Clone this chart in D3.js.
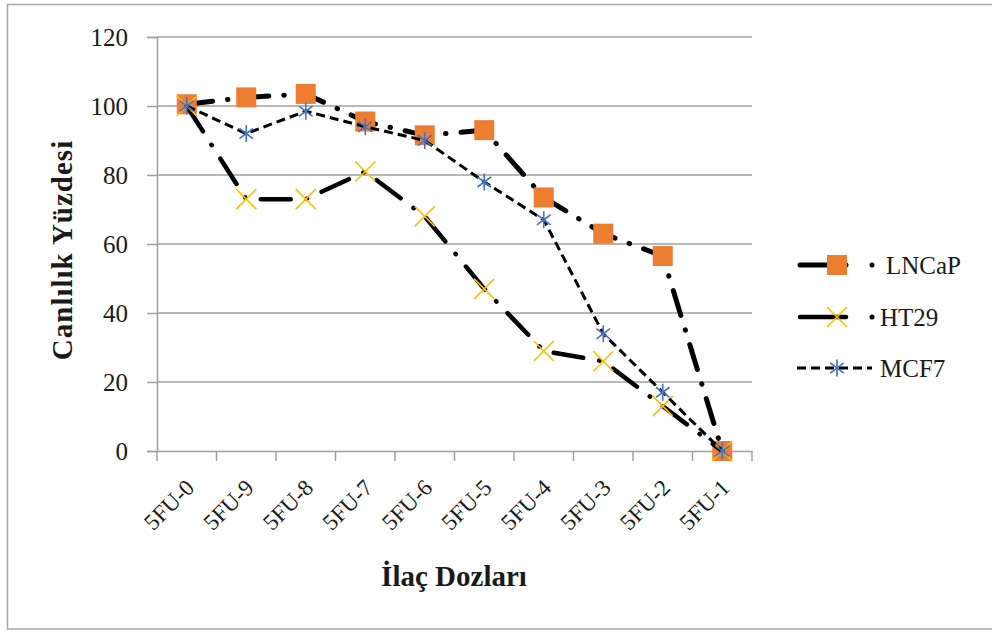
<!DOCTYPE html>
<meta charset="utf-8">
<style>
  body { margin: 0; background: #fff; }
  text { font-family: "Liberation Serif", "Times New Roman", serif; fill: #1a1a1a; }
</style>
<body>
<div id="canvas"></div>
<script src="https://d3js.org/d3.v7.min.js"></script>
<script>

// categories (drug doses) and viability values
var doses = ["5FU-0", "5FU-9", "5FU-8", "5FU-7", "5FU-6", "5FU-5", "5FU-4", "5FU-3", "5FU-2", "5FU-1"];
var lncap = [100.5, 102.5, 103.5, 95.5, 91.5, 93, 73.5, 63, 56.5, 0];
var ht29  = [100, 73, 73, 81, 68, 47, 29, 26, 13, 0];
var mcf7  = [100, 92, 98.5, 94, 90, 78, 67, 34, 17, 0];
var yTicks = [0, 20, 40, 60, 80, 100, 120];

var series = [
  { name: "LNCaP", values: lncap, width: 5,   dash: "26,15,0.5,15", cap: "round", marker: "square" },
  { name: "HT29",  values: ht29,  width: 4.5, dash: "30,16,0.5,16", cap: "round", marker: "x" },
  { name: "MCF7",  values: mcf7,  width: 3,   dash: "9,5",          cap: "butt",  marker: "star" }
];

var W = 992, H = 632;
var svg = d3.select("#canvas").append("svg")
    .attr("width", W)
    .attr("height", H);

// outer chart border
svg.append("rect")
    .attr("x", 7.5).attr("y", 4.5)
    .attr("width", 995).attr("height", 624.5)
    .attr("fill", "none")
    .attr("stroke", "#a6a6a6")
    .attr("stroke-width", 1.5);

var x = d3.scaleBand().domain(doses).range([157, 752]);
var y = d3.scaleLinear().domain([0, 120]).range([451, 37]);
var grey = "#a0a0a0";

// horizontal gridlines
svg.append("g").selectAll("line")
  .data(yTicks.filter(function(d){ return d > 0; }))
  .enter().append("line")
    .attr("x1", 157).attr("x2", 752)
    .attr("y1", function(d){ return y(d); })
    .attr("y2", function(d){ return y(d); })
    .attr("stroke", grey).attr("stroke-width", 1.5);

// y axis
var yAxis = svg.append("g")
    .attr("transform", "translate(157,0)")
    .call(d3.axisLeft(y).tickValues(yTicks).tickSize(10).tickPadding(19))
    .attr("font-family", "Liberation Serif");
yAxis.select(".domain").attr("stroke", grey).attr("stroke-width", 1.5);
yAxis.selectAll(".tick line").attr("stroke", grey).attr("stroke-width", 1.5);
yAxis.selectAll(".tick text")
    .attr("font-size", 25).attr("fill", "#1a1a1a");

// x axis: ticks at band edges
var xAxis = svg.append("g")
    .attr("transform", "translate(0,451)")
    .call(d3.axisBottom(x).tickSize(0).tickPadding(0))
    .attr("font-family", "Liberation Serif");
xAxis.select(".domain").attr("stroke", grey).attr("stroke-width", 1.5);
xAxis.selectAll(".tick text")
    .attr("font-size", 23).attr("fill", "#1a1a1a")
    .attr("text-anchor", "end")
    .attr("dy", 0)
    .attr("transform", "translate(9,38) rotate(-45)");
xAxis.append("g").selectAll("line")
  .data(doses.concat(["end"]))
  .enter().append("line")
    .attr("x1", function(d, i){ return 157 + i * x.bandwidth(); })
    .attr("x2", function(d, i){ return 157 + i * x.bandwidth(); })
    .attr("y1", 0).attr("y2", 10)
    .attr("stroke", grey).attr("stroke-width", 1.5);

// axis titles
svg.append("text")
    .attr("x", 454).attr("y", 586)
    .attr("text-anchor", "middle")
    .attr("font-size", 29).attr("font-weight", "bold")
    .text("İlaç Dozları");
svg.append("text")
    .attr("transform", "translate(72,250) rotate(-90)")
    .attr("text-anchor", "middle")
    .attr("font-size", 29).attr("font-weight", "bold")
    .attr("letter-spacing", 1)
    .text("Canlılık Yüzdesi");

// markers
function drawMarker(g, type, cx, cy) {
  if (type === "square") {
    g.append("rect")
      .attr("x", cx - 10).attr("y", cy - 10)
      .attr("width", 20).attr("height", 20)
      .attr("fill", "#ed7d31");
  } else if (type === "x") {
    var r = 10;
    g.append("path")
      .attr("d", "M" + (cx - r) + "," + (cy - r) + "L" + (cx + r) + "," + (cy + r) +
                 "M" + (cx - r) + "," + (cy + r) + "L" + (cx + r) + "," + (cy - r))
      .attr("stroke", "#ffc000").attr("stroke-width", 1.6).attr("fill", "none");
  } else {
    var s = 8.5;
    g.append("path")
      .attr("d", "M" + cx + "," + (cy - s) + "L" + cx + "," + (cy + s) +
                 "M" + (cx - s * 0.8) + "," + (cy - s * 0.6) + "L" + (cx + s * 0.8) + "," + (cy + s * 0.6) +
                 "M" + (cx - s * 0.8) + "," + (cy + s * 0.6) + "L" + (cx + s * 0.8) + "," + (cy - s * 0.6))
      .attr("stroke", "#4472c4").attr("stroke-width", 1.6).attr("fill", "none");
  }
}

var line = d3.line()
    .x(function(d, i){ return x(doses[i]) + x.bandwidth() / 2; })
    .y(function(d){ return y(d); });

series.forEach(function(s) {
  var g = svg.append("g");
  g.append("path")
    .attr("d", line(s.values))
    .attr("fill", "none")
    .attr("stroke", "#000")
    .attr("stroke-width", s.width)
    .attr("stroke-dasharray", s.dash)
    .attr("stroke-linecap", s.cap);
  s.values.forEach(function(v, i) {
    drawMarker(g, s.marker, x(doses[i]) + x.bandwidth() / 2, y(v));
  });
});

// legend
var legendY = [265, 317, 368];
series.forEach(function(s, i) {
  var g = svg.append("g");
  var ly = legendY[i];
  if (s.marker === "star") {
    g.append("line")
      .attr("x1", 797).attr("x2", 872).attr("y1", ly).attr("y2", ly)
      .attr("stroke", "#000").attr("stroke-width", s.width)
      .attr("stroke-dasharray", s.dash);
  } else {
    g.append("line")
      .attr("x1", 800).attr("x2", 846).attr("y1", ly).attr("y2", ly)
      .attr("stroke", "#000").attr("stroke-width", s.width)
      .attr("stroke-linecap", "round");
    g.append("circle")
      .attr("cx", 872).attr("cy", ly).attr("r", 2.5)
      .attr("fill", "#000");
  }
  drawMarker(g, s.marker, 837, ly);
  g.append("text")
    .attr("x", s.marker === "square" ? 886 : 880).attr("y", ly + 9)
    .attr("font-size", 25)
    .text(s.name);
});

</script>
</body>
